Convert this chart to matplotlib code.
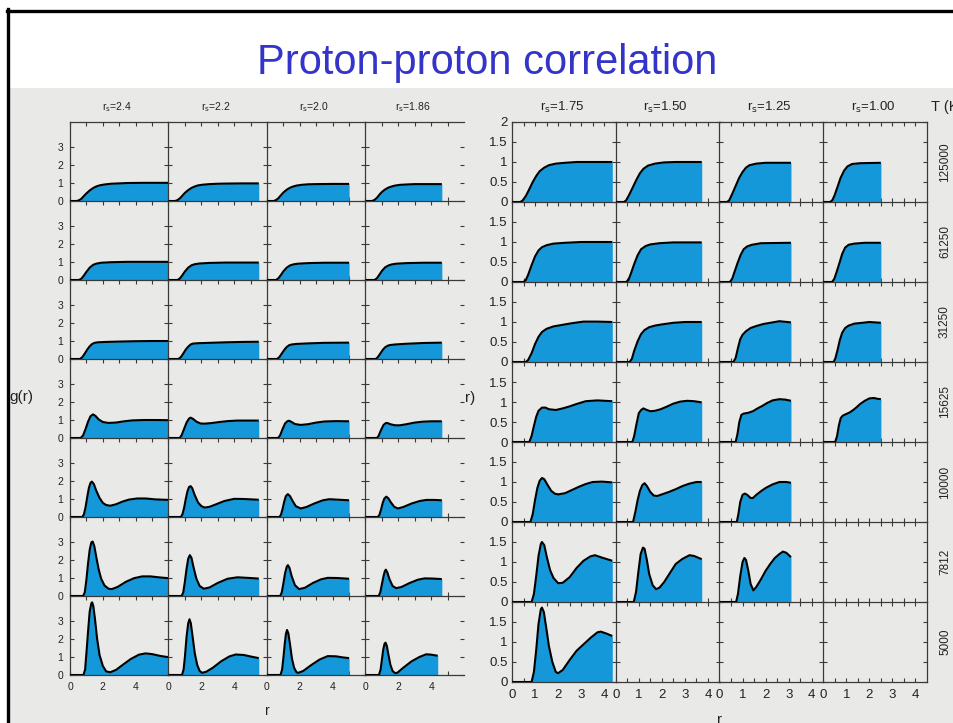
import matplotlib
matplotlib.use("Agg")
import matplotlib.pyplot as plt
from matplotlib.patches import Rectangle
from matplotlib.lines import Line2D
from matplotlib.ticker import FixedLocator, NullFormatter

# ---------------- data ----------------
rs_left = ["2.4", "2.2", "2.0", "1.86"]
rs_right = ["1.75", "1.50", "1.25", "1.00"]
temps = ["125000", "61250", "31250", "15625", "10000", "7812", "5000"]
left_xticks = [0, 2, 4]
right_xticks = [0, 1, 2, 3, 4]

# left block: g(r) curves, one list per temperature row, one curve per r_s column
L_125000 = [
    [(0, 0), (0.4, 0), (0.55, 0.04), (0.7, 0.13), (0.85, 0.28), (1.0, 0.42), (1.2, 0.58), (1.4, 0.71), (1.6, 0.8), (1.8, 0.86), (2.1, 0.91), (2.5, 0.95), (3.0, 0.97), (3.5, 0.99), (4.5, 1.0), (6.0, 1.0)],
    [(0, 0), (0.4, 0), (0.55, 0.05), (0.7, 0.15), (0.85, 0.3), (1.0, 0.45), (1.2, 0.6), (1.4, 0.72), (1.6, 0.8), (1.8, 0.86), (2.1, 0.9), (2.5, 0.93), (3.0, 0.95), (3.5, 0.96), (4.5, 0.97), (5.5, 0.97)],
    [(0, 0), (0.4, 0), (0.55, 0.05), (0.7, 0.16), (0.85, 0.32), (1.0, 0.47), (1.2, 0.62), (1.4, 0.73), (1.6, 0.8), (1.8, 0.85), (2.1, 0.89), (2.5, 0.92), (3.0, 0.93), (4.0, 0.94), (5.0, 0.94)],
    [(0, 0), (0.4, 0), (0.55, 0.06), (0.7, 0.18), (0.85, 0.35), (1.0, 0.5), (1.2, 0.64), (1.4, 0.74), (1.6, 0.8), (1.8, 0.85), (2.1, 0.89), (2.5, 0.91), (3.0, 0.93), (4.0, 0.93), (4.65, 0.93)],
]
L_61250 = [
    [(0, 0), (0.55, 0), (0.7, 0.08), (0.85, 0.25), (1.0, 0.45), (1.2, 0.68), (1.4, 0.83), (1.6, 0.9), (1.9, 0.95), (2.5, 0.98), (3.5, 1.0), (6.0, 1.0)],
    [(0, 0), (0.55, 0), (0.7, 0.09), (0.85, 0.27), (1.0, 0.47), (1.2, 0.68), (1.4, 0.81), (1.6, 0.87), (1.9, 0.91), (2.5, 0.94), (3.5, 0.96), (5.5, 0.96)],
    [(0, 0), (0.55, 0), (0.7, 0.1), (0.85, 0.28), (1.0, 0.48), (1.2, 0.68), (1.4, 0.8), (1.6, 0.86), (1.9, 0.9), (2.5, 0.93), (3.5, 0.95), (5.0, 0.95)],
    [(0, 0), (0.55, 0), (0.7, 0.1), (0.85, 0.3), (1.0, 0.5), (1.2, 0.7), (1.4, 0.8), (1.6, 0.86), (1.9, 0.9), (2.5, 0.93), (3.5, 0.95), (4.65, 0.95)],
]
L_31250 = [
    [(0, 0), (0.6, 0), (0.75, 0.1), (0.9, 0.3), (1.05, 0.52), (1.2, 0.7), (1.35, 0.83), (1.5, 0.89), (1.7, 0.92), (2.2, 0.94), (3.0, 0.96), (4.0, 0.98), (5.0, 0.99), (6.0, 0.99)],
    [(0, 0), (0.6, 0), (0.75, 0.1), (0.9, 0.3), (1.05, 0.52), (1.2, 0.68), (1.35, 0.8), (1.5, 0.85), (1.8, 0.87), (2.5, 0.89), (3.5, 0.92), (4.5, 0.94), (5.5, 0.95)],
    [(0, 0), (0.6, 0), (0.75, 0.1), (0.9, 0.3), (1.05, 0.5), (1.2, 0.66), (1.35, 0.76), (1.5, 0.8), (1.8, 0.83), (2.5, 0.86), (3.5, 0.89), (5.0, 0.9)],
    [(0, 0), (0.62, 0), (0.75, 0.1), (0.9, 0.3), (1.05, 0.5), (1.2, 0.65), (1.35, 0.73), (1.5, 0.77), (1.8, 0.8), (2.5, 0.84), (3.5, 0.88), (4.65, 0.9)],
]
L_15625 = [
    [(0, 0), (0.65, 0), (0.8, 0.15), (0.95, 0.5), (1.1, 0.9), (1.25, 1.2), (1.4, 1.3), (1.55, 1.22), (1.75, 1.02), (2.0, 0.88), (2.35, 0.83), (2.8, 0.85), (3.3, 0.92), (3.8, 0.97), (4.5, 0.99), (5.3, 0.99), (6.0, 0.98)],
    [(0, 0), (0.68, 0), (0.8, 0.15), (0.95, 0.5), (1.1, 0.85), (1.25, 1.07), (1.35, 1.12), (1.5, 1.05), (1.7, 0.9), (1.95, 0.8), (2.2, 0.79), (2.6, 0.82), (3.1, 0.88), (3.6, 0.93), (4.2, 0.96), (5.5, 0.96)],
    [(0, 0), (0.68, 0), (0.8, 0.15), (0.95, 0.5), (1.1, 0.8), (1.25, 0.93), (1.35, 0.95), (1.5, 0.88), (1.7, 0.77), (2.05, 0.72), (2.5, 0.76), (3.0, 0.85), (3.5, 0.91), (4.2, 0.93), (5.0, 0.92)],
    [(0, 0), (0.7, 0), (0.8, 0.12), (0.95, 0.45), (1.1, 0.72), (1.25, 0.83), (1.35, 0.82), (1.55, 0.75), (1.8, 0.7), (2.1, 0.7), (2.5, 0.76), (3.0, 0.85), (3.5, 0.9), (4.0, 0.92), (4.65, 0.92)],
]
L_10000 = [
    [(0, 0), (0.75, 0), (0.85, 0.15), (0.95, 0.55), (1.05, 1.1), (1.15, 1.6), (1.25, 1.88), (1.33, 1.95), (1.45, 1.82), (1.6, 1.45), (1.8, 1.05), (2.0, 0.78), (2.2, 0.66), (2.45, 0.62), (2.8, 0.7), (3.2, 0.85), (3.6, 0.96), (4.1, 1.02), (4.6, 1.02), (5.2, 0.97), (6.0, 0.94)],
    [(0, 0), (0.75, 0), (0.85, 0.15), (0.95, 0.5), (1.05, 0.98), (1.15, 1.4), (1.25, 1.65), (1.35, 1.7), (1.45, 1.58), (1.6, 1.2), (1.8, 0.8), (2.0, 0.6), (2.2, 0.52), (2.5, 0.56), (2.9, 0.7), (3.4, 0.88), (4.0, 1.0), (4.6, 0.99), (5.5, 0.95)],
    [(0, 0), (0.75, 0), (0.85, 0.12), (0.95, 0.45), (1.05, 0.85), (1.15, 1.15), (1.27, 1.26), (1.4, 1.15), (1.55, 0.9), (1.75, 0.6), (2.05, 0.47), (2.4, 0.55), (2.9, 0.75), (3.4, 0.92), (3.8, 0.98), (4.4, 0.95), (5.0, 0.92)],
    [(0, 0), (0.75, 0), (0.85, 0.12), (0.95, 0.42), (1.05, 0.78), (1.15, 1.02), (1.27, 1.12), (1.4, 1.02), (1.55, 0.8), (1.75, 0.56), (1.97, 0.47), (2.3, 0.55), (2.8, 0.74), (3.3, 0.88), (3.7, 0.94), (4.2, 0.94), (4.65, 0.92)],
]
L_7812 = [
    [(0, 0), (0.8, 0), (0.9, 0.2), (1.0, 0.9), (1.1, 1.8), (1.2, 2.55), (1.3, 2.95), (1.38, 3.0), (1.48, 2.75), (1.6, 2.15), (1.75, 1.45), (1.9, 0.95), (2.1, 0.58), (2.35, 0.4), (2.55, 0.38), (2.9, 0.5), (3.4, 0.78), (3.9, 0.98), (4.4, 1.08), (4.9, 1.08), (5.5, 1.02), (6.0, 0.98)],
    [(0, 0), (0.8, 0), (0.9, 0.2), (1.0, 0.8), (1.1, 1.5), (1.2, 2.05), (1.3, 2.25), (1.4, 2.1), (1.52, 1.6), (1.7, 0.95), (1.9, 0.55), (2.15, 0.4), (2.5, 0.47), (3.0, 0.72), (3.6, 0.95), (4.2, 1.03), (4.8, 1.0), (5.5, 0.96)],
    [(0, 0), (0.8, 0), (0.9, 0.2), (1.0, 0.7), (1.1, 1.25), (1.2, 1.6), (1.27, 1.7), (1.37, 1.55), (1.5, 1.1), (1.7, 0.6), (1.95, 0.38), (2.3, 0.45), (2.8, 0.72), (3.3, 0.92), (3.7, 1.0), (4.3, 0.99), (5.0, 0.95)],
    [(0, 0), (0.8, 0), (0.9, 0.2), (1.0, 0.65), (1.1, 1.1), (1.18, 1.38), (1.24, 1.45), (1.33, 1.3), (1.45, 0.95), (1.65, 0.55), (1.87, 0.43), (2.2, 0.5), (2.7, 0.72), (3.2, 0.9), (3.6, 0.97), (4.1, 0.96), (4.65, 0.93)],
]
L_5000 = [
    [(0, 0), (0.82, 0), (0.92, 0.3), (1.0, 1.2), (1.1, 2.4), (1.2, 3.5), (1.3, 3.95), (1.35, 4.0), (1.42, 3.8), (1.52, 3.1), (1.65, 2.0), (1.8, 1.1), (2.0, 0.5), (2.2, 0.2), (2.45, 0.15), (2.8, 0.28), (3.2, 0.55), (3.7, 0.88), (4.2, 1.12), (4.6, 1.19), (5.0, 1.15), (5.5, 1.05), (6.0, 0.98)],
    [(0, 0), (0.82, 0), (0.92, 0.3), (1.0, 1.0), (1.1, 2.1), (1.2, 2.85), (1.28, 3.07), (1.36, 2.85), (1.47, 2.1), (1.6, 1.2), (1.75, 0.55), (1.9, 0.22), (2.05, 0.12), (2.3, 0.18), (2.7, 0.4), (3.2, 0.75), (3.7, 1.02), (4.1, 1.13), (4.6, 1.1), (5.1, 1.0), (5.5, 0.93)],
    [(0, 0), (0.82, 0), (0.92, 0.3), (1.0, 0.95), (1.08, 1.7), (1.15, 2.25), (1.22, 2.48), (1.3, 2.3), (1.4, 1.7), (1.52, 0.9), (1.65, 0.4), (1.8, 0.15), (1.9, 0.12), (2.2, 0.22), (2.7, 0.55), (3.2, 0.85), (3.7, 1.04), (4.2, 1.03), (4.6, 0.97), (5.0, 0.93)],
    [(0, 0), (0.82, 0), (0.92, 0.3), (1.0, 0.85), (1.08, 1.4), (1.16, 1.72), (1.22, 1.78), (1.3, 1.6), (1.4, 1.1), (1.52, 0.55), (1.65, 0.22), (1.8, 0.1), (1.95, 0.13), (2.3, 0.4), (2.8, 0.75), (3.3, 1.0), (3.7, 1.14), (4.0, 1.12), (4.4, 1.06)],
]

# right block
R_125000 = [
    [(0, 0), (0.35, 0), (0.45, 0.03), (0.6, 0.15), (0.75, 0.32), (0.9, 0.5), (1.05, 0.65), (1.2, 0.77), (1.4, 0.86), (1.6, 0.92), (1.9, 0.96), (2.3, 0.98), (2.8, 1.0), (4.35, 1.0)],
    [(0, 0), (0.35, 0), (0.45, 0.04), (0.6, 0.2), (0.75, 0.38), (0.9, 0.56), (1.05, 0.72), (1.2, 0.83), (1.4, 0.91), (1.7, 0.96), (2.1, 0.99), (2.6, 1.0), (3.73, 1.0)],
    [(0, 0), (0.32, 0), (0.42, 0.04), (0.55, 0.2), (0.7, 0.4), (0.85, 0.6), (1.0, 0.75), (1.15, 0.86), (1.3, 0.92), (1.6, 0.96), (2.0, 0.98), (3.1, 0.98)],
    [(0, 0), (0.3, 0), (0.4, 0.05), (0.5, 0.18), (0.62, 0.38), (0.75, 0.6), (0.9, 0.78), (1.05, 0.89), (1.25, 0.95), (1.6, 0.97), (2.5, 0.98)],
]
R_61250 = [
    [(0, 0), (0.5, 0), (0.6, 0.05), (0.7, 0.18), (0.85, 0.42), (1.0, 0.64), (1.15, 0.79), (1.3, 0.87), (1.5, 0.92), (1.8, 0.96), (2.3, 0.98), (3.0, 1.0), (4.35, 1.0)],
    [(0, 0), (0.45, 0), (0.55, 0.05), (0.65, 0.2), (0.8, 0.45), (0.95, 0.67), (1.1, 0.82), (1.3, 0.9), (1.5, 0.94), (1.9, 0.97), (2.5, 0.99), (3.73, 0.99)],
    [(0, 0), (0.45, 0), (0.55, 0.08), (0.65, 0.25), (0.78, 0.47), (0.92, 0.68), (1.05, 0.82), (1.2, 0.89), (1.4, 0.93), (1.8, 0.97), (3.1, 0.98)],
    [(0, 0), (0.38, 0), (0.48, 0.08), (0.58, 0.25), (0.7, 0.47), (0.82, 0.7), (0.95, 0.86), (1.1, 0.93), (1.35, 0.96), (1.8, 0.98), (2.5, 0.98)],
]
R_31250 = [
    [(0, 0), (0.6, 0), (0.7, 0.05), (0.85, 0.22), (1.0, 0.45), (1.15, 0.63), (1.3, 0.75), (1.5, 0.83), (1.8, 0.89), (2.2, 0.93), (2.6, 0.97), (3.1, 1.01), (3.7, 1.01), (4.35, 1.0)],
    [(0, 0), (0.6, 0), (0.7, 0.08), (0.8, 0.28), (0.95, 0.52), (1.1, 0.7), (1.25, 0.8), (1.45, 0.87), (1.7, 0.91), (2.0, 0.94), (2.5, 0.98), (3.0, 1.0), (3.73, 1.0)],
    [(0, 0), (0.6, 0), (0.7, 0.1), (0.8, 0.35), (0.9, 0.57), (1.0, 0.68), (1.15, 0.77), (1.35, 0.85), (1.6, 0.9), (1.9, 0.95), (2.3, 0.99), (2.6, 1.02), (3.1, 0.99)],
    [(0, 0), (0.45, 0), (0.53, 0.1), (0.62, 0.3), (0.72, 0.55), (0.82, 0.73), (0.95, 0.85), (1.1, 0.91), (1.35, 0.96), (1.7, 0.98), (2.0, 1.0), (2.5, 0.98)],
]
R_15625 = [
    [(0, 0), (0.75, 0), (0.85, 0.15), (0.95, 0.4), (1.05, 0.63), (1.15, 0.78), (1.3, 0.86), (1.45, 0.86), (1.6, 0.82), (1.9, 0.8), (2.2, 0.84), (2.5, 0.89), (2.8, 0.95), (3.2, 1.02), (3.7, 1.04), (4.35, 1.02)],
    [(0, 0), (0.72, 0), (0.8, 0.15), (0.9, 0.45), (1.0, 0.72), (1.1, 0.8), (1.2, 0.84), (1.35, 0.8), (1.5, 0.77), (1.7, 0.78), (1.95, 0.82), (2.2, 0.88), (2.5, 0.96), (2.8, 1.01), (3.1, 1.03), (3.4, 1.02), (3.73, 0.99)],
    [(0, 0), (0.7, 0), (0.78, 0.2), (0.86, 0.5), (0.95, 0.68), (1.05, 0.71), (1.25, 0.73), (1.45, 0.77), (1.65, 0.84), (1.85, 0.9), (2.05, 0.97), (2.3, 1.04), (2.6, 1.07), (2.85, 1.06), (3.1, 1.03)],
    [(0, 0), (0.52, 0), (0.6, 0.15), (0.68, 0.42), (0.76, 0.6), (0.85, 0.66), (1.0, 0.7), (1.15, 0.74), (1.3, 0.8), (1.45, 0.87), (1.6, 0.95), (1.8, 1.03), (2.0, 1.09), (2.2, 1.1), (2.35, 1.08), (2.5, 1.07)],
]
R_10000 = [
    [(0, 0), (0.8, 0), (0.9, 0.2), (1.0, 0.55), (1.1, 0.85), (1.2, 1.03), (1.3, 1.1), (1.4, 1.07), (1.55, 0.92), (1.7, 0.78), (1.85, 0.71), (2.0, 0.69), (2.3, 0.72), (2.6, 0.8), (2.9, 0.88), (3.2, 0.95), (3.5, 1.0), (3.9, 1.01), (4.35, 0.99)],
    [(0, 0), (0.75, 0), (0.85, 0.25), (0.95, 0.55), (1.05, 0.78), (1.15, 0.92), (1.25, 0.97), (1.35, 0.9), (1.5, 0.75), (1.65, 0.66), (1.8, 0.65), (2.0, 0.69), (2.3, 0.75), (2.6, 0.82), (2.9, 0.9), (3.2, 0.96), (3.5, 1.0), (3.73, 1.0)],
    [(0, 0), (0.75, 0), (0.82, 0.2), (0.9, 0.5), (1.0, 0.68), (1.1, 0.71), (1.2, 0.68), (1.35, 0.6), (1.45, 0.6), (1.6, 0.68), (1.8, 0.77), (2.0, 0.85), (2.3, 0.94), (2.6, 1.0), (2.9, 1.0), (3.1, 0.98)],
    None,
]
R_7812 = [
    [(0, 0), (0.85, 0), (0.95, 0.2), (1.05, 0.65), (1.15, 1.15), (1.25, 1.45), (1.3, 1.5), (1.4, 1.42), (1.5, 1.15), (1.65, 0.8), (1.8, 0.6), (2.0, 0.47), (2.2, 0.48), (2.5, 0.62), (2.8, 0.85), (3.1, 1.03), (3.4, 1.14), (3.6, 1.17), (3.9, 1.11), (4.35, 1.03)],
    [(0, 0), (0.78, 0), (0.88, 0.25), (0.98, 0.75), (1.08, 1.2), (1.18, 1.36), (1.25, 1.33), (1.35, 1.05), (1.45, 0.7), (1.6, 0.42), (1.75, 0.32), (1.9, 0.36), (2.1, 0.5), (2.3, 0.68), (2.6, 0.95), (2.9, 1.08), (3.2, 1.17), (3.4, 1.15), (3.73, 1.07)],
    [(0, 0), (0.72, 0), (0.8, 0.2), (0.9, 0.65), (1.0, 1.0), (1.08, 1.1), (1.15, 1.05), (1.25, 0.78), (1.35, 0.45), (1.47, 0.29), (1.6, 0.38), (1.8, 0.57), (2.0, 0.78), (2.2, 0.95), (2.4, 1.1), (2.6, 1.2), (2.75, 1.26), (2.9, 1.23), (3.1, 1.12)],
    None,
]
R_5000 = [
    [(0, 0), (0.85, 0), (0.95, 0.25), (1.05, 0.8), (1.15, 1.45), (1.25, 1.82), (1.3, 1.86), (1.38, 1.75), (1.5, 1.3), (1.6, 0.9), (1.75, 0.5), (1.9, 0.25), (2.0, 0.22), (2.2, 0.3), (2.5, 0.55), (2.8, 0.78), (3.1, 0.94), (3.4, 1.1), (3.7, 1.24), (3.85, 1.26), (4.1, 1.21), (4.35, 1.15)],
    None,
    None,
    None,
]

left_rows = [L_125000, L_61250, L_31250, L_15625, L_10000, L_7812, L_5000]
right_rows = [R_125000, R_61250, R_31250, R_15625, R_10000, R_7812, R_5000]

# ---------------- style ----------------
W, H = 954, 723
BG = "#e9eae8"
FILL = "#1598da"
SPINE = "#3a3a3a"
FONT = ["Liberation Sans", "DejaVu Sans"]
plt.rcParams["font.family"] = FONT

fig = plt.figure(figsize=(W / 100, H / 100), dpi=100, facecolor="white")

# gray picture area and slide border (drawn behind the axes)
fig.patches.append(Rectangle((10 / W, 0), 1 - 10 / W, 1 - 88 / H, transform=fig.transFigure,
                             facecolor=BG, edgecolor="none", zorder=-10))
fig.add_artist(Line2D([8.5 / W, 8.5 / W], [0, 1 - 9 / H], color="black", lw=2.4,
                      transform=fig.transFigure, zorder=5))
fig.add_artist(Line2D([7 / W, 1], [1 - 10.5 / H, 1 - 10.5 / H], color="black", lw=2.4,
                      transform=fig.transFigure, zorder=5))

fig.text(487 / W, 1 - 74 / H, "Proton-proton correlation", ha="center", va="baseline",
         color="#3434c8", fontsize=30, zorder=5)


def add_ax(x, y, w, h):
    ax = fig.add_axes([x / W, 1 - (y + h) / H, w / W, h / H])
    ax.set_zorder(1)
    return ax


def draw_block(rows, x0, y0, cw, rh, xlim, ylim, xticks, xminor, yminor, ymajor_for, fs,
               right_spine_last, xpad, ypad):
    nrow = len(rows)
    for i, row in enumerate(rows):
        for j, curve in enumerate(row):
            ax = add_ax(x0 + j * cw, y0 + i * rh, cw, rh)
            ax.set_facecolor("none")
            ax.set_xlim(*xlim)
            ax.set_ylim(*ylim)
            for s in ax.spines.values():
                s.set_color(SPINE)
                s.set_linewidth(0.9)
            ax.spines["top"].set_visible(i == 0)
            last = j == len(row) - 1
            ax.spines["right"].set_visible(last and right_spine_last)
            if curve is not None:
                r = [p[0] for p in curve]
                g = [p[1] for p in curve]
                ax.fill_between(r, g, 0, color=FILL, lw=0, zorder=2)
                ax.plot(r, g, color="black", lw=1.5, solid_joinstyle="round",
                        solid_capstyle="butt", zorder=3)
            ax.xaxis.set_major_locator(FixedLocator(xticks))
            ax.xaxis.set_minor_locator(FixedLocator(xminor))
            ax.yaxis.set_major_locator(FixedLocator(ymajor_for(i)))
            ax.yaxis.set_minor_locator(FixedLocator(yminor))
            ax.tick_params(which="both", direction="in", length=3, width=0.8, color=SPINE,
                           top=True, right=True, labelsize=fs, labelcolor="#222222")
            ax.tick_params(axis="x", pad=xpad)
            ax.tick_params(axis="y", pad=ypad)
            if i != nrow - 1:
                ax.xaxis.set_major_formatter(NullFormatter())
            else:
                ax.set_xticklabels([str(t) for t in xticks])
            if j != 0:
                ax.yaxis.set_major_formatter(NullFormatter())
            else:
                ax.set_yticklabels([("%g" % t) for t in ymajor_for(i)])


# left block
draw_block(left_rows, 70, 122, 98.5, 79, (0, 6.0), (0, 4.35), left_xticks, [1, 3, 5],
           [1, 2, 3], lambda i: [0, 1, 2, 3], 7.5, False, 5, 5)
# right block
draw_block(right_rows, 512, 122, 103.75, 80, (0, 4.5), (0, 2.0), right_xticks, [0.5, 1.5, 2.5, 3.5],
           [0.5, 1.0, 1.5],
           lambda i: [0, 0.5, 1, 1.5, 2] if i == 0 else [0, 0.5, 1, 1.5], 9.5, True, 5, 3)

# column headers
for j, rs in enumerate(rs_left):
    fig.text((70 + 98.5 * j + 47) / W, 1 - 107 / H, r"r$_{\rm s}$=" + rs, ha="center", va="center",
             fontsize=7.5, color="#222222")
for j, rs in enumerate(rs_right):
    fig.text((512 + 103.75 * j + 50) / W, 1 - 107 / H, r"r$_{\rm s}$=" + rs, ha="center", va="center",
             fontsize=9.5, color="#222222")
fig.text(931 / W, 1 - 107 / H, "T (K)", ha="left", va="center", fontsize=10.5, color="#222222")
for i, t in enumerate(temps):
    fig.text(945 / W, 1 - (122 + 80 * i + 40) / H, t, ha="center", va="center", rotation=90,
             fontsize=8.5, color="#222222")

fig.text(21 / W, 1 - 397 / H, "g(r)", ha="center", va="center", fontsize=11, color="#222222")
fig.text(470 / W, 1 - 398 / H, "r)", ha="center", va="center", fontsize=11, color="#222222")
fig.text(267 / W, 1 - 711 / H, "r", ha="center", va="center", fontsize=10, color="#222222")
fig.text(720 / W, 1 - 720 / H, "r", ha="center", va="center", fontsize=11, color="#222222")

fig.savefig("out.png", dpi=100, facecolor="white")
